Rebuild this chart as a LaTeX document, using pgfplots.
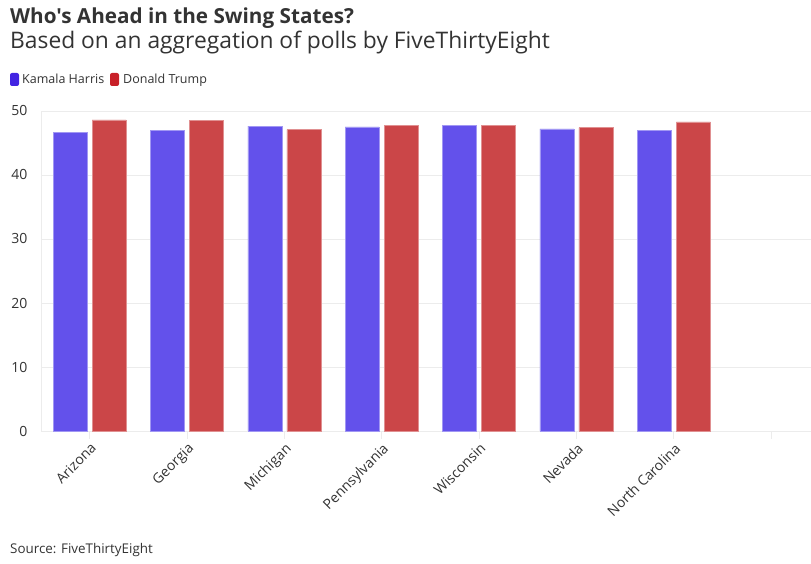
\documentclass[border=0pt]{standalone}
\usepackage{pgfplots}
\pgfplotsset{compat=1.18}
\usepackage{fontspec}
\setmainfont{Open Sans}[Ligatures=TeXOff]

\definecolor{harris}{RGB}{99,81,235}
\definecolor{trump}{RGB}{203,70,72}
\definecolor{harrisleg}{RGB}{66,36,226}
\definecolor{trumpleg}{RGB}{200,32,40}
\definecolor{txt}{RGB}{51,51,51}
\definecolor{gridc}{RGB}{236,236,236}

\begin{document}
\begin{tikzpicture}[x=1bp,y=1bp]
\useasboundingbox (0,0) rectangle (811,564);

% titles
\node[anchor=base west, inner sep=0, text=txt, font=\fontsize{20.7bp}{24bp}\selectfont\bfseries] at (10,540) {Who's Ahead in the Swing States?};
\node[anchor=base west, inner sep=0, text=txt, font=\fontsize{22.8bp}{26bp}\selectfont] at (10,515) {Based on an aggregation of polls by FiveThirtyEight};

% legend
\fill[harrisleg, rounded corners=2bp] (10,478) rectangle (19,491);
\node[anchor=base west, inner sep=0, text=txt, font=\fontsize{12.5bp}{15bp}\selectfont] at (22,480) {Kamala Harris};
\fill[trumpleg, rounded corners=2bp] (110,478) rectangle (119,491);
\node[anchor=base west, inner sep=0, text=txt, font=\fontsize{12.5bp}{15bp}\selectfont] at (123,480) {Donald Trump};

\node[anchor=base west, inner sep=0, text=txt, font=\fontsize{13.4bp}{16bp}\selectfont] at (10,10) {Source: FiveThirtyEight};

\begin{axis}[
    at={(41bp,133bp)}, anchor=south west,
    scale only axis,
    width=770bp, height=320bp,
    ybar=5bp, bar width=34bp,
    xmin=-0.5, xmax=7.41,
    ymin=0, ymax=50,
    xtick={0,...,7},
    xticklabels={Arizona,Georgia,Michigan,Pennsylvania,Wisconsin,Nevada,North Carolina,{}},
    ytick={0,10,...,50},
    ymajorgrids, major grid style={gridc, line width=0.8bp},
    axis x line*=bottom, axis y line*=left,
    axis line style={gridc, line width=0.8bp},
    x axis line style={-}, y axis line style={-},
    xtick style={gridc, line width=0.8bp},
    major tick length=8bp, tick align=outside,
    ytick style={draw=none},
    tick label style={text=txt, font=\fontsize{14bp}{16bp}\selectfont},
    xticklabel style={rotate=45, anchor=north east, inner sep=2bp},
    yticklabel style={xshift=-2bp},
    /pgf/number format/assume math mode=true,
    clip=false,
]
\addplot[fill=harris, draw=harris!60!white, line width=0.6bp] coordinates {
  (0,46.7) (1,47.0) (2,47.65) (3,47.5) (4,47.7) (5,47.2) (6,47.0)};
\addplot[fill=trump, draw=trump!60!white, line width=0.6bp] coordinates {
  (0,48.6) (1,48.5) (2,47.1) (3,47.8) (4,47.7) (5,47.4) (6,48.3)};
\end{axis}
\end{tikzpicture}
\end{document}
